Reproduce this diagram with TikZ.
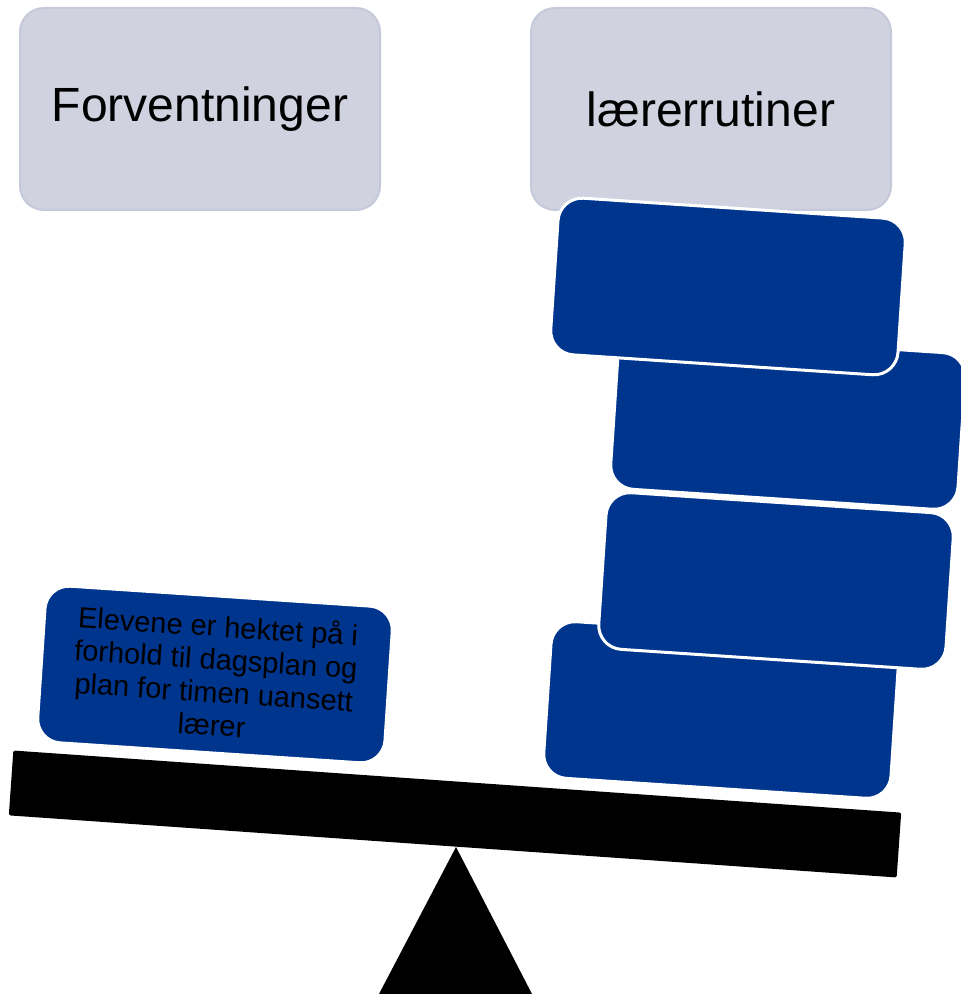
\documentclass[tikz,border=0pt]{standalone}
\usepackage{fontspec}
\setmainfont{Liberation Sans}
\usetikzlibrary{positioning}
\definecolor{headgray}{HTML}{D0D2E0}
\definecolor{headline}{HTML}{C6C9D9}
\definecolor{blockblue}{HTML}{00358E}
\tikzset{
  headbox/.style={draw=headline,fill=headgray,line width=1pt,rounded corners=12pt,
    minimum width=180pt,minimum height=101pt,inner sep=0pt,
    font=\fontsize{24}{28}\selectfont},
  weight/.style={draw=white,fill=blockblue,line width=1.5pt,rounded corners=12pt,
    minimum width=174pt,minimum height=78.5pt,inner sep=0pt,rotate=-3.8},
  beamstyle/.style={fill=black,rounded corners=1pt,inner sep=0pt,
    minimum width=445pt,minimum height=32.5pt,rotate=-4}
}
\begin{document}
\begin{tikzpicture}[x=0.5pt,y=0.5pt]
\useasboundingbox (0.000000,0.000000) rectangle (960.000000,994.000000);

% headings
\node[headbox] (forv) at (200,885) {Forventninger};
\node[headbox] (rutiner) at (711,885) {lærerrutiner};

% the scale
\fill[black] (379,0) -- (456,147) -- (532,0) -- cycle;
\node[beamstyle] (beam) at (455,180) {};

% weights, left side
\node[weight,align=center,font=\fontsize{14.5}{16.5}\selectfont] (elev) at (215,319.5)
  {Elevene er hektet på i\\forhold til dagsplan og\\plan for timen uansett\\lærer};

% weights, right side
\node[weight] (w4) at (721,284) {};
\node[weight] (w3) at (776,413) {};
\node[weight] (w2) at (788,573) {};
\node[weight] (w1) at (728,707.5) {};
\end{tikzpicture}
\end{document}
